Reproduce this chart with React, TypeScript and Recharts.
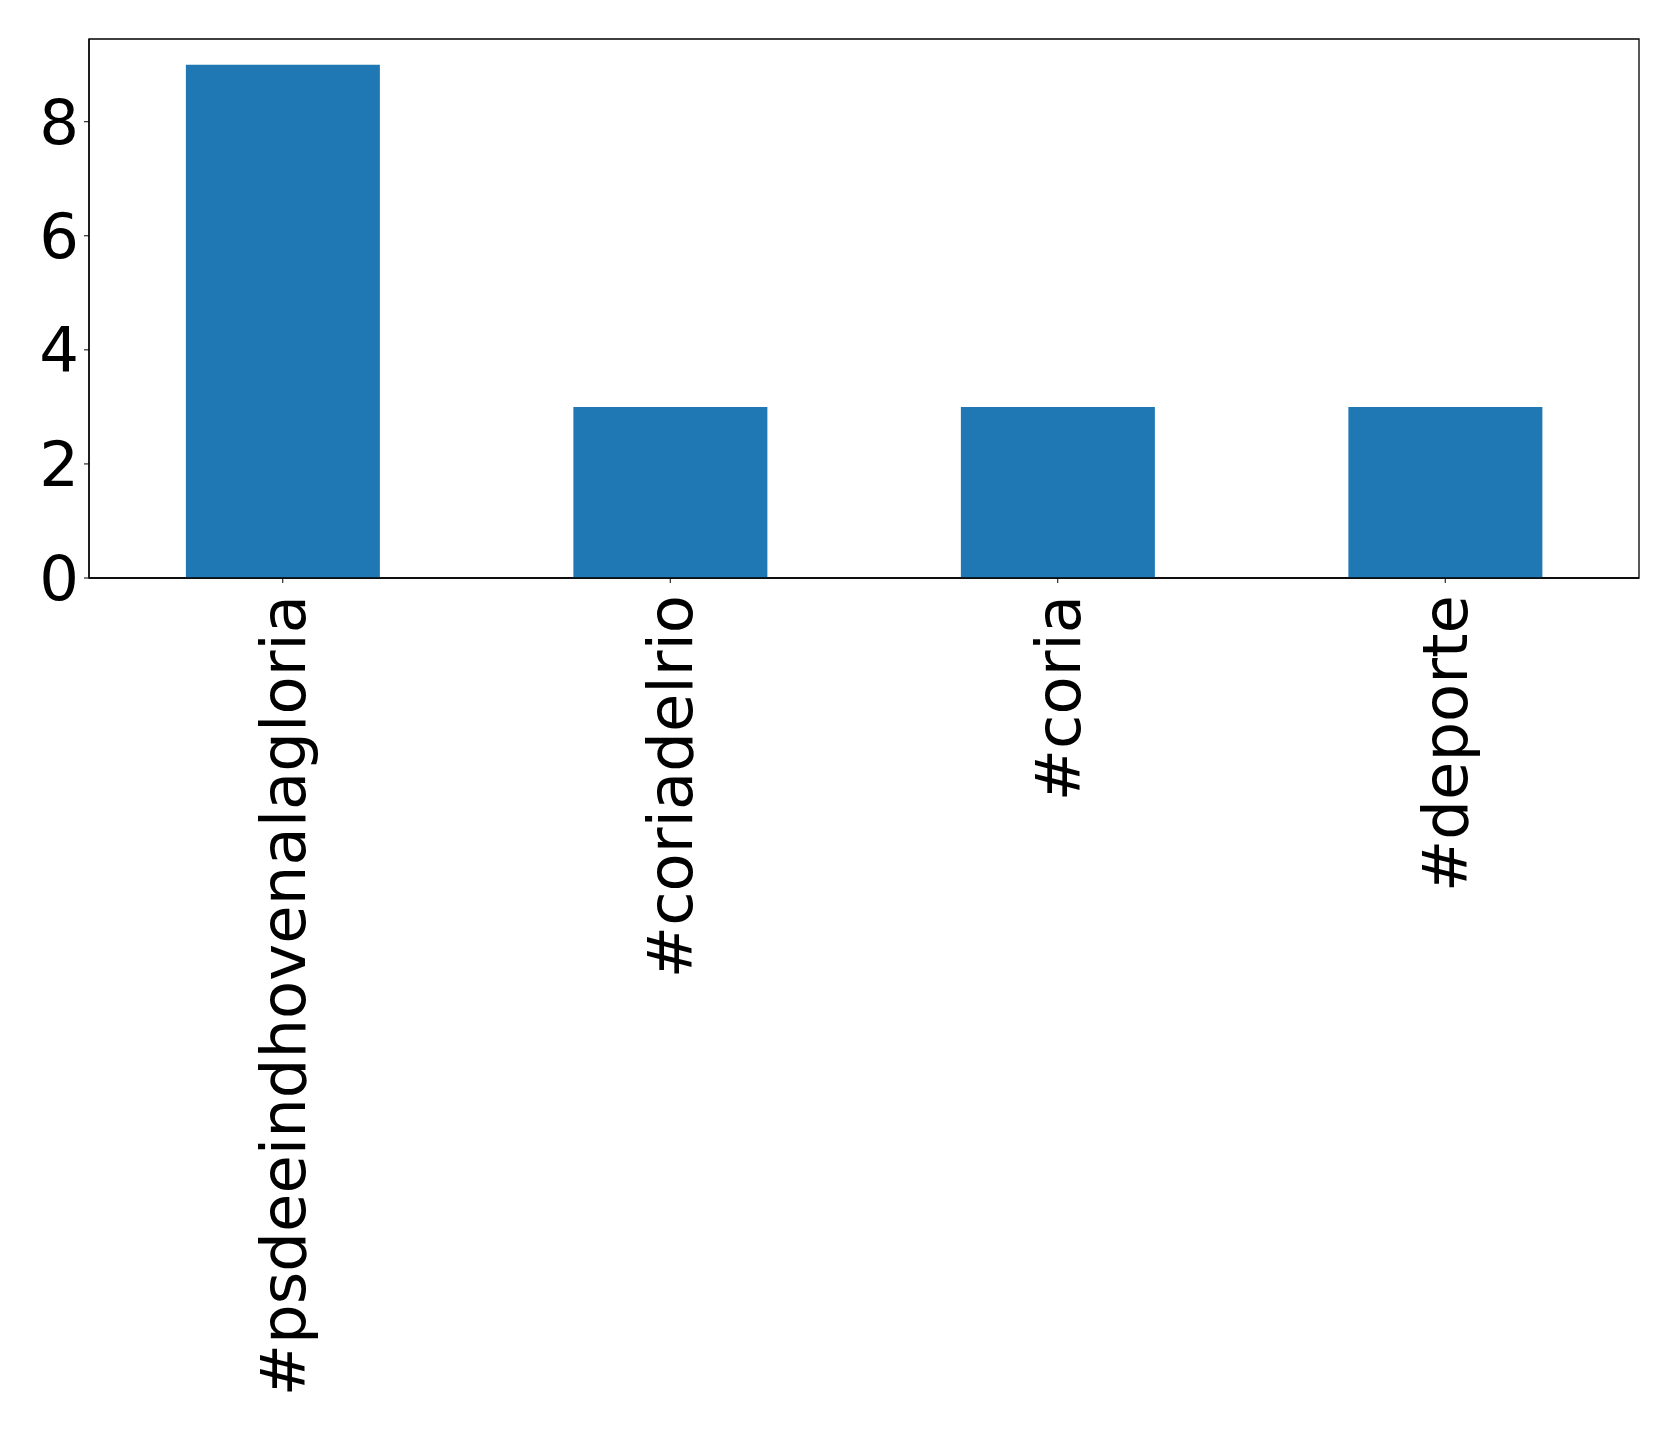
import { Bar, BarChart, ReferenceArea, XAxis, YAxis } from "recharts";

const hashtags = ["#psdeeindhovenalagloria", "#coriadelrio", "#coria", "#deporte"];
const counts = [9, 3, 3, 3];
const yTicks = [0, 2, 4, 6, 8];
const yMax = 9.45;

const rows = hashtags.map((tag, i) => ({ tag, count: counts[i] }));

const font = "'DejaVu Sans', sans-serif";
const frame = { stroke: "#000", strokeWidth: 1.3 };

function RotatedTick({ x, y, payload }: any) {
  return (
    <g transform={`translate(${x},${y + 10}) rotate(-90)`}>
      <text
        x={0}
        y={0}
        dy="0.35em"
        textAnchor="end"
        fontSize={62.5}
        fontFamily={font}
        fill="#000"
      >
        {payload.value}
      </text>
    </g>
  );
}

export default function App() {
  return (
    <div style={{ position: "absolute", left: 0, top: 0, background: "#fff" }}>
      <BarChart
        width={1679}
        height={1429}
        data={rows}
        margin={{ top: 39, right: 40, left: 0, bottom: 0 }}
        barCategoryGap="25%"
      >
        <XAxis
          dataKey="tag"
          height={851}
          interval={0}
          tickSize={5}
          tickMargin={2}
          axisLine={frame}
          tickLine={{ stroke: "#000" }}
          tick={<RotatedTick />}
        />
        <YAxis
          width={89}
          domain={[0, yMax]}
          ticks={yTicks}
          tickSize={5}
          tickMargin={5}
          axisLine={frame}
          tickLine={{ stroke: "#000" }}
          tick={{ fontSize: 62.5, fontFamily: font, fill: "#000" }}
        />
        <Bar dataKey="count" fill="#1f77b4" isAnimationActive={false} />
        <ReferenceArea
          x1={hashtags[0]}
          x2={hashtags[hashtags.length - 1]}
          y1={0}
          y2={yMax}
          fill="none"
          fillOpacity={0}
          stroke="#000"
          strokeWidth={1.3}
        />
      </BarChart>
    </div>
  );
}
